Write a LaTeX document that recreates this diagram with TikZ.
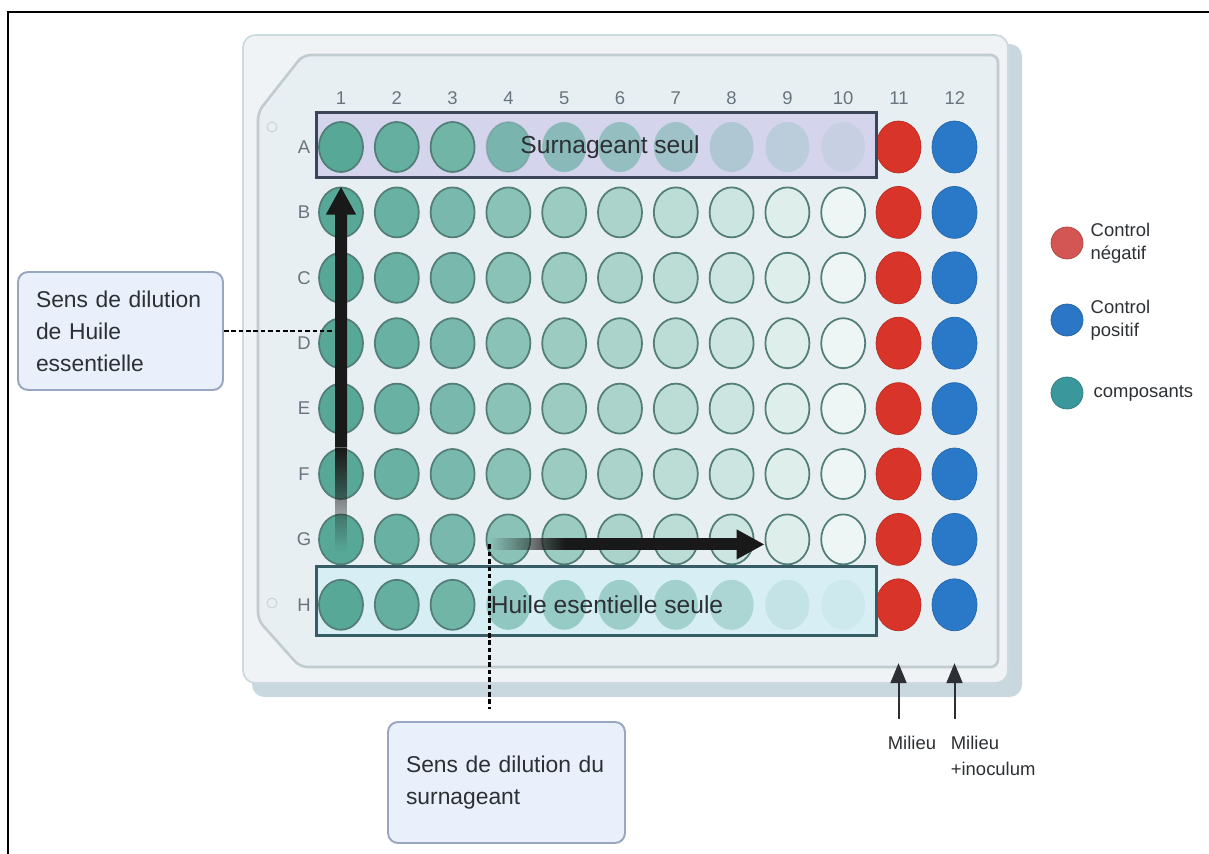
\documentclass[tikz,border=0pt]{standalone}
\usepackage{fontspec}
\setmainfont{Liberation Sans}
\usepackage{tikz}
\usetikzlibrary{positioning, calc, shapes.geometric, arrows.meta, fadings}

\definecolor{wellTeal}{RGB}{88, 168, 152}
\definecolor{wellEdge}{RGB}{82, 126, 119}
\definecolor{ctrlRed}{RGB}{216, 52, 42}
\definecolor{ctrlBlue}{RGB}{42, 120, 200}
\definecolor{legRed}{RGB}{212, 86, 84}
\definecolor{legBlue}{RGB}{44, 118, 198}
\definecolor{legTeal}{RGB}{58, 152, 156}
\definecolor{plateBody}{RGB}{239, 243, 245}
\definecolor{plateEdge}{RGB}{204, 217, 222}
\definecolor{plateShade}{RGB}{200, 216, 222}
\definecolor{plateInner}{RGB}{232, 239, 242}
\definecolor{labelGray}{RGB}{104, 116, 126}
\definecolor{boxFill}{RGB}{234, 240, 251}
\definecolor{boxEdge}{RGB}{152, 166, 194}
\definecolor{lavender}{RGB}{212, 213, 236}
\definecolor{paleCyan}{RGB}{214, 238, 244}
\definecolor{rowEdgeA}{RGB}{58, 70, 88}
\definecolor{rowEdgeH}{RGB}{56, 92, 100}
\definecolor{textDark}{RGB}{44, 48, 52}

\tikzfading[name=fadeup, top color=transparent!0, bottom color=transparent!100]
\tikzfading[name=faderight, left color=transparent!100, right color=transparent!0]

\begin{document}
\begin{tikzpicture}[
    x=0.02cm, y=-0.02cm,
    well/.style={ellipse, draw=wellEdge, line width=1pt, inner sep=0pt,
                 minimum width=0.88cm, minimum height=1.0cm},
    ctrl/.style={ellipse, inner sep=0pt, minimum width=0.9cm, minimum height=1.04cm},
    collbl/.style={font=\fontsize{10.5}{12}\selectfont, text=labelGray},
    rowtext/.style={font=\fontsize{14}{16}\selectfont, text=textDark},
    rowbox/.style={rectangle, draw=none, minimum width=11.18cm, inner sep=0pt},
    callout/.style={rectangle, rounded corners=0.2cm, fill=boxFill, draw=boxEdge,
                    line width=1.1pt, align=left, text=textDark,
                    font=\fontsize{13}{18.2}\selectfont},
    legdot/.style={circle, minimum size=0.64cm, inner sep=0pt},
    legtext/.style={align=left, text=textDark, inner sep=0pt,
                    font=\fontsize{10.5}{13}\selectfont},
    bigarrow/.style={-{Triangle[length=0.56cm, width=0.56cm]}, line width=0.24cm,
                     draw=black!90},
    uparrow/.style={-{Triangle[length=0.4cm, width=0.32cm]}, line width=0.04cm,
                    draw=textDark},
    leader/.style={draw=black, line width=1.2pt, dash pattern=on 2.6pt off 1.6pt},
  ]
    \useasboundingbox (0,0) rectangle (1209,854);

    % Frame
    \draw[line width=0.04cm] (8,854) -- (8,12) -- (1209,12);

    % Plate
    \fill[plateShade, rounded corners=0.25cm] (252,44) rectangle (1022,697);
    \filldraw[fill=plateBody, draw=plateEdge, line width=1pt, rounded corners=0.25cm]
      (243,35) rectangle (1008,683);
    \filldraw[fill=plateInner, draw=plateEdge!85!gray, line width=1.5pt,
              rounded corners=0.15cm]
      (303,55) -- (998,55) -- (998,667) -- (300,667) -- (258,620) -- (258,112) -- cycle;
    \draw[plateEdge!85!gray, fill=plateInner] (272,127) circle (0.1cm);
    \draw[plateEdge!85!gray, fill=plateInner] (272,603) circle (0.1cm);

    % Row boxes (fill)
    \node[rowbox, fill=lavender, minimum height=1.28cm] (boxA) at (596.5,145) {};
    \node[rowbox, fill=paleCyan, minimum height=1.36cm] (boxH) at (596.5,601) {};

    % Column and row labels
    \foreach \c in {1,...,12}
      \node[collbl] (n\c) at ({341+55.8*(\c-1)},98) {\c};
    \foreach \r [count=\ri] in {A,B,C,D,E,F,G,H}
      \node[collbl] (l\r) at (304,{147+65.4*(\ri-1)}) {\r};

    % Wells B--G
    \foreach \r [count=\ri from 2] in {B,C,D,E,F,G} {
      \foreach \c in {1,...,10} {
        \pgfmathtruncatemacro{\pct}{100-10*(\c-1)}
        \node[well, fill=wellTeal!\pct!white] (\r\c)
          at ({341+55.8*(\c-1)},{147+65.4*(\ri-1)}) {};
      }
    }
    % Wells A and H
    \foreach \c/\pct/\op/\dop in {1/100/1/1,2/92/1/1,3/85/1/1,4/100/.72/.3,5/100/.6/0,
                                 6/100/.5/0,7/100/.42/0,8/100/.3/0,9/100/.2/0,10/100/.1/0}
      \node[well, fill=wellTeal!\pct!white, fill opacity=\op, draw opacity=\dop] (A\c)
        at ({341+55.8*(\c-1)},147) {};
    \foreach \c/\pct/\op/\dop in {1/100/1/1,2/92/1/1,3/85/1/1,4/100/.55/0,5/100/.5/0,
                                 6/100/.46/0,7/100/.42/0,8/100/.34/0,9/100/.15/0,10/100/.07/0}
      \node[well, fill=wellTeal!\pct!white, fill opacity=\op, draw opacity=\dop] (H\c)
        at ({341+55.8*(\c-1)},{147+65.4*7}) {};
    % Controls
    \foreach \r [count=\ri] in {A,B,C,D,E,F,G,H} {
      \node[ctrl, fill=ctrlRed, draw=ctrlRed!85!black] (\r11) at (898.5,{147+65.4*(\ri-1)}) {};
      \node[ctrl, fill=ctrlBlue, draw=ctrlBlue!85!black] (\r12) at (954.5,{147+65.4*(\ri-1)}) {};
    }

    % Row boxes (outline + text)
    \draw[rowEdgeA, line width=1.6pt] (boxA.south west) rectangle (boxA.north east);
    \draw[rowEdgeH, line width=1.6pt] (boxH.south west) rectangle (boxH.north east);
    \node[rowtext] (tA) at (610,147) {Surnageant seul};
    \node[rowtext] (tH) at (607,605) {Huile esentielle seule};

    % Callouts
    \node[callout, minimum width=4.1cm, minimum height=2.36cm, text width=3.38cm,
          inner xsep=0.36cm] (sensL) at (120.5,331)
      {Sens de dilution\\de Huile\\essentielle};
    \node[callout, minimum width=4.74cm, minimum height=2.42cm, text width=4.02cm,
          inner xsep=0.36cm] (sensS) at (506.5,782.5)
      {Sens de dilution du\\surnageant};

    % Dilution arrows
    \coordinate (vmid) at ($(G1.center)!0.26!(B1.north)$);
    \coordinate (hstart) at ($(G4.west)+(4,5)$);
    \coordinate (hmid) at ($(G5.center)+(0,5)$);
    \draw[leader] (sensL.east) -- (sensL.east -| B1.center);
    \draw[leader] (hstart) -- ($(hstart |- sensS.north)+(0,-12)$);
    \fill[black!90, path fading=fadeup] ($(G1.center)+(-6,12)$) rectangle ($(vmid)+(6,0)$);
    \draw[bigarrow] (vmid) -- (B1.north);
    \fill[black!90, path fading=faderight] ($(hstart)+(0,-6)$) rectangle ($(hmid)+(0,6)$);
    \draw[bigarrow] (hmid) -- ($(G9.west)+(0,5)$);

    % Milieu arrows
    \coordinate (tipA) at ($(H11.south)+(0,32)$);
    \coordinate (tailA) at ($(tipA)+(0,56)$);
    \coordinate (tipB) at ($(H12.south)+(0,32)$);
    \coordinate (tailB) at ($(tipB)+(0,56)$);
    \draw[uparrow] (tailA) -- (tipA);
    \draw[uparrow] (tailB) -- (tipB);
    \node[legtext, anchor=west] (milA) at ($(tailA)+(-11,24)$) {Milieu};
    \node[legtext, anchor=west, font=\fontsize{10.5}{14.7}\selectfont] (milB)
      at ($(tailB)+(-4,37)$) {Milieu\\+inoculum};

    % Legend
    \node[legdot, fill=legRed, draw=legRed!80!black] (dNeg) at (1067,243) {};
    \node[legdot, fill=legBlue, draw=legBlue!80!black] (dPos) at (1067,320) {};
    \node[legdot, fill=legTeal, draw=legTeal!80!black] (dCmp) at (1067,393) {};
    \node[legtext, right=0.14cm of dNeg] (tNeg) {Control\\négatif};
    \node[legtext, right=0.14cm of dPos] (tPos) {Control\\positif};
    \node[legtext, right=0.2cm of dCmp] (tCmp) {composants};
  \end{tikzpicture}
\end{document}
